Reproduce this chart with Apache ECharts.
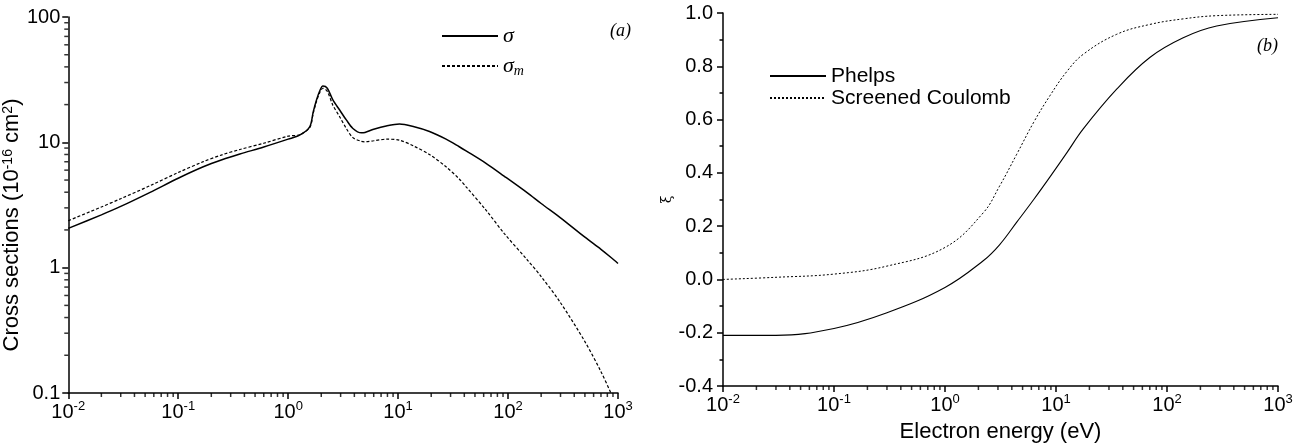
<!DOCTYPE html>
<html>
<head>
<meta charset="utf-8">
<script src="https://cdn.jsdelivr.net/npm/echarts@6.0.0/dist/echarts.min.js"></script>
<style>
  html, body { margin: 0; background: #fff; }
  #main { width: 1300px; height: 448px; }
</style>
</head>
<body>
<div id="main"></div>
<script>
// panel (a): cross sections vs electron energy
const energyA = [0.01, 0.02, 0.03, 0.0555, 0.1, 0.169, 0.25, 0.364, 0.6, 1.0,
  1.27, 1.57, 1.69, 1.81, 1.94, 2.07, 2.27, 2.55, 2.94, 3.38,
  3.88, 4.62, 5.0, 6.0, 7.8, 10.3, 14, 19.3, 27.3, 36,
  41.5, 63, 92, 150, 200, 300, 500, 700, 870, 1000]
const sigma = [2.06, 2.64, 3.08, 3.99, 5.17, 6.38, 7.26, 8.07, 9.18, 10.6,
  11.4, 13.3, 17.5, 21.8, 25.8, 28.1, 27.0, 21.8, 18.1, 15.1,
  12.9, 11.9, 12.0, 12.7, 13.5, 14.0, 13.3, 12.2, 10.6, 9.22,
  8.55, 6.8, 5.38, 3.95, 3.25, 2.5, 1.75, 1.4, 1.2, 1.08]
const sigmaM = [2.37, 3.05, 3.55, 4.51, 5.74, 7.01, 7.95, 8.77, 9.84, 11.2,
  11.5, 13.1, 17.0, 21.2, 25.0, 27.0, 25.5, 19.8, 16.0, 12.9,
  10.9, 10.2, 10.1, 10.3, 10.6, 10.4, 9.3, 8.0, 6.38, 5.1,
  4.42, 2.88, 1.88, 1.15, 0.85, 0.525, 0.257, 0.148, 0.098, 0.073]

// panel (b): xi vs electron energy
const energyB = [0.01, 0.03, 0.1, 0.3, 1.0, 2.21, 3.1, 4.43, 6.3, 8.83, 12.5, 17.6, 35.2, 70, 140, 280, 1000]
const phelps = [-0.21, -0.21, -0.184, -0.125, -0.03, 0.07, 0.13, 0.215, 0.3, 0.385, 0.475, 0.565, 0.714, 0.833, 0.907, 0.951, 0.982]
const coulomb = [0.0, 0.008, 0.02, 0.05, 0.12, 0.25, 0.35, 0.47, 0.59, 0.69, 0.78, 0.845, 0.92, 0.957, 0.978, 0.99, 0.995]

// log minor tick multipliers
const minorMult = [2, 3, 4, 5, 6, 7, 8, 9]

const font = 'Liberation Sans'
const zip = (xs, ys) => xs.map((x, i) => [x, ys[i]])
const minorLog = (lo, hi) => {
  const out = []
  for (let d = lo; d < hi * 0.999; d *= 10) minorMult.forEach(m => out.push(+(d * m).toPrecision(3)))
  return out
}

const supRich = {
  b: { fontSize: 20, fontFamily: font, color: '#000', lineHeight: 24 },
  s: { fontSize: 13, fontFamily: font, color: '#000', verticalAlign: 'top' }
}
const powLabel = v => `{b|10}{s|${Math.round(Math.log10(v))}}`

const axisBase = {
  axisLine: { show: true, onZero: false, lineStyle: { color: '#000', width: 1.5 } },
  axisTick: { show: true, length: 6, lineStyle: { color: '#000', width: 1.5 } },
  splitLine: { show: false }
}

const tickMark = (data, xi, size, offset) => ({
  type: 'scatter',
  xAxisIndex: xi,
  yAxisIndex: xi,
  data: data,
  symbol: 'rect',
  symbolSize: size,
  symbolOffset: offset,
  itemStyle: { color: '#000' },
  silent: true,
  clip: false,
  z: 5
})

const chart = echarts.init(document.getElementById('main'))
chart.setOption({
  animation: false,
  backgroundColor: '#fff',
  grid: [
    { left: 67, top: 17, width: 551, height: 376 },
    { left: 723, top: 13, width: 555, height: 380 }
  ],
  xAxis: [
    Object.assign({}, axisBase, {
      type: 'log', gridIndex: 0, min: 0.01, max: 1000, logBase: 10,
      axisLabel: { formatter: powLabel, rich: supRich, margin: 7 }
    }),
    Object.assign({}, axisBase, {
      type: 'log', gridIndex: 1, min: 0.01, max: 1000, logBase: 10,
      axisLabel: { formatter: powLabel, rich: supRich, margin: 7 },
      name: 'Electron energy (eV)', nameLocation: 'middle', nameGap: 35,
      nameTextStyle: { fontSize: 22, fontFamily: font, color: '#000' }
    })
  ],
  yAxis: [
    Object.assign({}, axisBase, {
      type: 'log', gridIndex: 0, min: 0.1, max: 100, logBase: 10,
      axisLabel: { fontSize: 20, fontFamily: font, color: '#000', margin: 8,
        formatter: v => (v < 1 ? '0.1' : String(Math.round(v))) },
      name: 'Cross sections (10{s|-16} cm{s|2})', nameLocation: 'middle', nameGap: 29,
      nameTextStyle: { fontSize: 22, fontFamily: font, color: '#000', padding: [0, 40, 0, 0],
        rich: { s: { fontSize: 14, fontFamily: font, color: '#000', verticalAlign: 'top' } } }
    }),
    Object.assign({}, axisBase, {
      type: 'value', gridIndex: 1, min: -0.4, max: 1.0, interval: 0.2,
      axisLabel: { fontSize: 20, fontFamily: font, color: '#000', margin: 10,
        formatter: v => v.toFixed(1) },
      minorTick: { show: true, splitNumber: 2, length: 3.5, lineStyle: { color: '#000', width: 1.5 } },
      name: 'ξ', nameLocation: 'middle', nameGap: 44,
      nameTextStyle: { fontSize: 14, fontFamily: 'DejaVu Serif', color: '#000' }
    })
  ],
  legend: [
    {
      data: ['σ', 'σm'], orient: 'vertical', left: 436, top: 19,
      itemWidth: 56, itemHeight: 12, itemGap: 6,
      itemStyle: { color: 'transparent', borderColor: 'transparent' },
      formatter: n => (n === 'σm' ? '{g|σ}{m|m}' : '{g|σ}'),
      textStyle: {
        lineHeight: 24,
        rich: {
          g: { fontSize: 22, fontFamily: 'Liberation Serif', fontStyle: 'italic', color: '#000', lineHeight: 24 },
          m: { fontSize: 14, fontFamily: 'Liberation Serif', fontStyle: 'italic', color: '#000', verticalAlign: 'bottom', lineHeight: 24 }
        }
      }
    },
    {
      data: ['Phelps', 'Screened Coulomb'], orient: 'vertical', left: 764, top: 60,
      itemWidth: 56, itemHeight: 12, itemGap: 0,
      itemStyle: { color: 'transparent', borderColor: 'transparent' },
      textStyle: { fontSize: 21, fontFamily: font, color: '#000', lineHeight: 22 }
    }
  ],
  graphic: [
    { type: 'text', left: 610, top: 22, style: { text: '(a)', font: 'italic 18px "Liberation Serif"', fill: '#000' } },
    { type: 'text', left: 1257, top: 37, style: { text: '(b)', font: 'italic 18px "Liberation Serif"', fill: '#000' } }
  ],
  series: [
    {
      name: 'σ', type: 'line', xAxisIndex: 0, yAxisIndex: 0,
      data: zip(energyA, sigma), symbol: 'none', smooth: 0.3,
      lineStyle: { color: '#000', width: 1.5 }, itemStyle: { color: '#000' }
    },
    {
      name: 'σm', type: 'line', xAxisIndex: 0, yAxisIndex: 0,
      data: zip(energyA, sigmaM), symbol: 'none', smooth: 0.3,
      lineStyle: { color: '#000', width: 1.2, type: [3, 2] }, itemStyle: { color: '#000' }
    },
    {
      name: 'Phelps', type: 'line', xAxisIndex: 1, yAxisIndex: 1,
      data: zip(energyB, phelps), symbol: 'none', smooth: 0.4,
      lineStyle: { color: '#000', width: 1.1 }, itemStyle: { color: '#000' }
    },
    {
      name: 'Screened Coulomb', type: 'line', xAxisIndex: 1, yAxisIndex: 1,
      data: zip(energyB, coulomb), symbol: 'none', smooth: 0.4,
      lineStyle: { color: '#000', width: 1, type: [2, 2] }, itemStyle: { color: '#000' }
    },
    // log minor ticks
    tickMark(minorLog(0.01, 1000).map(v => [v, 0.1]), 0, [1.5, 4], [0, 2]),
    tickMark(minorLog(0.1, 100).map(v => [0.01, v]), 0, [4, 1.5], [-2, 0]),
    tickMark(minorLog(0.01, 1000).map(v => [v, -0.4]), 1, [1.5, 4], [0, 2])
  ]
})
</script>
</body>
</html>
